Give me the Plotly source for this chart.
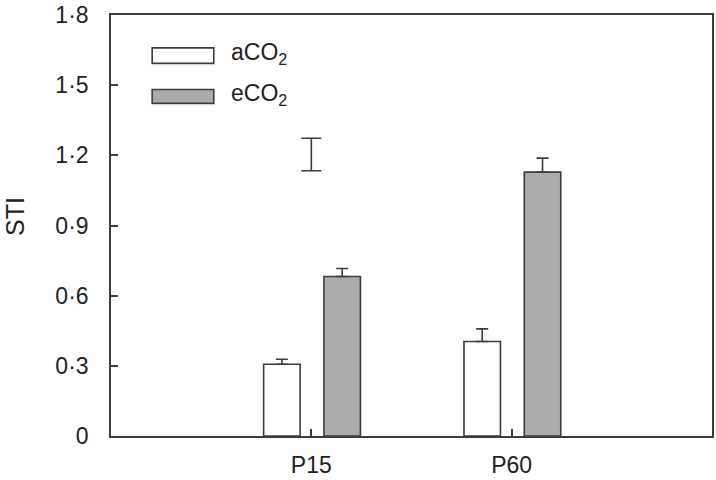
import plotly.graph_objects as go

categories = ["P15", "P60"]
series_names = ["aCO<sub>2</sub>", "eCO<sub>2</sub>"]
a_values = [0.307, 0.404]
a_errors = [0.021, 0.054]
e_values = [0.682, 1.128]
e_errors = [0.034, 0.060]
lsd_center = [1.2035]
lsd_half = [0.0695]
y_tickvals = [0, 0.3, 0.6, 0.9, 1.2, 1.5, 1.8]
y_ticktext = ["0", "0·3", "0·6", "0·9", "1·2", "1·5", "1·8"]

FONT = "Liberation Sans, Arial, sans-serif"
EDGE = "#3c3c3c"
TXT = "#222"
xpos = [i + 1 for i in range(len(categories))]

fig = go.Figure()
fig.add_trace(go.Bar(
    x=xpos, y=a_values, width=0.182, offset=-0.238,
    marker=dict(color="white", line=dict(color=EDGE, width=1.6)),
    error_y=dict(type="data", symmetric=False, array=a_errors, arrayminus=[0] * len(a_errors),
                 color=EDGE, thickness=1.6, width=6),
    showlegend=False, name="aCO2"))
fig.add_trace(go.Bar(
    x=xpos, y=e_values, width=0.182, offset=0.063,
    marker=dict(color="#ababab", line=dict(color=EDGE, width=1.6)),
    error_y=dict(type="data", symmetric=False, array=e_errors, arrayminus=[0] * len(e_errors),
                 color=EDGE, thickness=1.6, width=6),
    showlegend=False, name="eCO2"))
fig.add_trace(go.Scatter(
    x=[xpos[0]], y=lsd_center, mode="markers",
    marker=dict(size=1, opacity=0),
    error_y=dict(type="data", array=lsd_half, color=EDGE, thickness=1.6, width=10),
    showlegend=False, hoverinfo="skip"))

# legend drawn manually (long rectangular swatches)
x0, x1 = 0.0685, 0.171
sw = [(0.922, 0.885), (0.823, 0.790)]
fills = ["white", "#ababab"]
for (ya, yb), f, nm in zip(sw, fills, series_names):
    fig.add_shape(type="rect", xref="paper", yref="paper", x0=x0, x1=x1, y0=yb, y1=ya,
                  fillcolor=f, line=dict(color=EDGE, width=1.6))
    fig.add_annotation(xref="paper", yref="paper", x=0.196, y=(ya + yb) / 2 + 0.004,
                       text=nm, showarrow=False, xanchor="left", yanchor="middle",
                       font=dict(family=FONT, size=23, color=TXT))

# y-axis title
fig.add_annotation(xref="paper", yref="paper", x=-0.161, y=0.521, text="STI",
                   textangle=-90, showarrow=False, xanchor="center", yanchor="middle",
                   font=dict(family=FONT, size=25, color=TXT))

fig.update_layout(
    width=716, height=480,
    margin=dict(l=111, r=2, t=11, b=44),
    paper_bgcolor="white", plot_bgcolor="white",
    barmode="overlay",
    font=dict(family=FONT, color=TXT),
)
fig.update_xaxes(
    range=[0, 3], tickvals=xpos, ticktext=categories,
    ticks="inside", ticklen=7, tickwidth=1.6, tickcolor=EDGE,
    showline=True, linecolor=EDGE, linewidth=1.6, mirror=True,
    showgrid=False, zeroline=False,
    tickfont=dict(family=FONT, size=23, color=TXT), ticklabelstandoff=8,
)
fig.update_yaxes(
    range=[0, 1.8], tickvals=y_tickvals, ticktext=y_ticktext,
    ticks="inside", ticklen=7, tickwidth=1.6, tickcolor=EDGE,
    showline=True, linecolor=EDGE, linewidth=1.6, mirror=True,
    showgrid=False, zeroline=False, ticklabeloverflow="allow",
    tickfont=dict(family=FONT, size=23, color=TXT), ticklabelstandoff=16,
)
fig.write_html("out.html", config={"displayModeBar": False},
               post_script="document.body.style.margin='0';document.body.style.overflow='hidden';")
